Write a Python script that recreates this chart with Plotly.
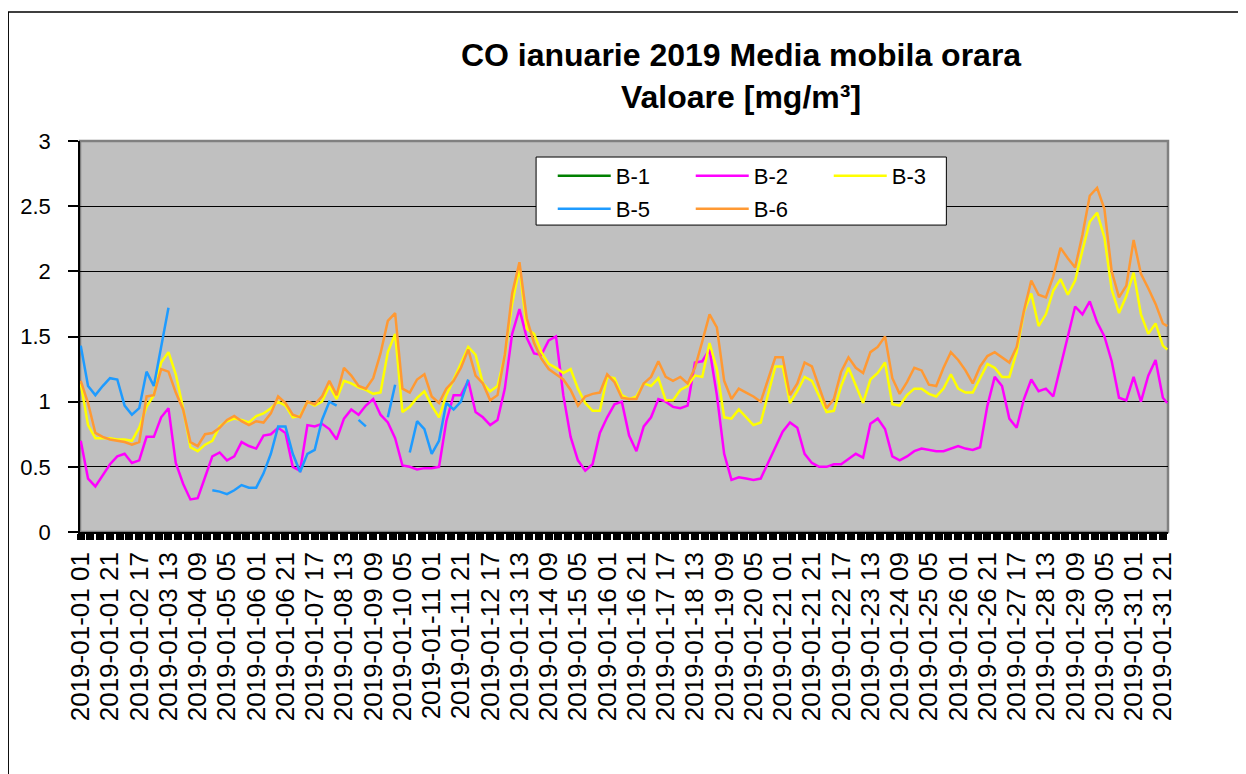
import pandas as pd
import plotly.graph_objects as go

# esantion la 5 ore, ora 1 = 2019-01-01 01
hours = list(range(1, 742, 5)) + [744]
times = pd.Timestamp("2019-01-01") + pd.to_timedelta(hours, unit="h")

# B-1 fara date
b1 = [None]

b2 = [0.70, 0.41, 0.35, 0.44, 0.52, 0.58, 0.60, 0.53, 0.55, 0.73, 0.73, 0.88, 0.95, 0.53, 0.37, 0.25, 0.26, 0.42, 0.58, 0.61, 0.55, 0.58, 0.69, 0.66, 0.64, 0.74,
      0.75, 0.80, 0.76, 0.50, 0.47, 0.82, 0.81, 0.83, 0.79, 0.71, 0.87, 0.94, 0.90, 0.97, 1.02, 0.90, 0.84, 0.72, 0.51, 0.50, 0.48, 0.49, 0.49, 0.50, 0.85, 1.05,
      1.05, 1.16, 0.92, 0.88, 0.82, 0.86, 1.10, 1.52, 1.71, 1.49, 1.37, 1.36, 1.47, 1.50, 1.05, 0.73, 0.55, 0.47, 0.52, 0.76, 0.88, 0.98, 1.00, 0.74, 0.62, 0.81,
      0.88, 1.02, 1.00, 0.96, 0.95, 0.97, 1.30, 1.31, 1.40, 1.05, 0.60, 0.40, 0.42, 0.41, 0.40, 0.41, 0.53, 0.65, 0.77, 0.84, 0.80, 0.60, 0.53, 0.50, 0.50, 0.52,
      0.52, 0.56, 0.60, 0.57, 0.83, 0.87, 0.79, 0.58, 0.55, 0.58, 0.62, 0.64, 0.63, 0.62, 0.62, 0.64, 0.66, 0.64, 0.63, 0.65, 0.97, 1.19, 1.12, 0.87, 0.80,
      1.02, 1.17, 1.08, 1.10, 1.04, 1.27, 1.48, 1.73, 1.67, 1.77, 1.61, 1.50, 1.31, 1.03, 1.01, 1.19, 1.00, 1.20, 1.32, 1.03, 0.99]

b3 = [1.14, 0.82, 0.72, 0.72, 0.72, 0.71, 0.71, 0.70, 0.80, 0.96, 1.05, 1.30, 1.38, 1.21, 0.95, 0.65, 0.62, 0.67, 0.70, 0.81, 0.85, 0.87, 0.86, 0.84, 0.89, 0.91,
      0.95, 1.00, 0.97, 0.88, 0.89, 1.00, 0.97, 1.00, 1.12, 1.02, 1.16, 1.14, 1.11, 1.09, 1.06, 1.07, 1.38, 1.52, 0.92, 0.96, 1.03, 1.08, 0.97, 0.88, 1.05, 1.17,
      1.30, 1.42, 1.36, 1.14, 1.08, 1.12, 1.35, 1.75, 2.03, 1.56, 1.52, 1.38, 1.29, 1.26, 1.22, 1.25, 1.10, 0.99, 0.93, 0.93, 1.19, 1.18, 1.05, 1.02, 1.04, 1.14,
      1.12, 1.18, 1.01, 1.01, 1.09, 1.12, 1.20, 1.19, 1.45, 1.25, 0.88, 0.87, 0.94, 0.88, 0.82, 0.84, 1.05, 1.27, 1.27, 0.99, 1.08, 1.19, 1.16, 1.04, 0.92, 0.93,
      1.12, 1.26, 1.13, 0.99, 1.17, 1.22, 1.30, 0.98, 0.97, 1.05, 1.10, 1.10, 1.06, 1.04, 1.10, 1.21, 1.10, 1.07, 1.07, 1.18, 1.29, 1.26, 1.19, 1.19, 1.38,
      1.69, 1.83, 1.58, 1.67, 1.85, 1.94, 1.82, 1.93, 2.16, 2.38, 2.45, 2.26, 1.86, 1.68, 1.81, 1.99, 1.67, 1.52, 1.60, 1.43, 1.40]

# B-5 are date doar pana la 01-12
b5 = [1.43, 1.12, 1.05, 1.12, 1.18, 1.17, 0.97, 0.90, 0.95, 1.23, 1.12, 1.41, 1.72, None, None, None, None, None, 0.32, 0.31, 0.29, 0.32, 0.36, 0.34, 0.34, 0.45,
      0.60, 0.81, 0.81, 0.60, 0.46, 0.60, 0.63, 0.86, 1.00, 0.97, None, None, 0.86, 0.81, None, None, 0.88, 1.13, None, 0.61, 0.85, 0.79, 0.60, 0.70, 0.99, 0.94,
      1.00, 1.17]

b6 = [1.16, 0.99, 0.76, 0.73, 0.71, 0.70, 0.69, 0.67, 0.69, 1.04, 1.05, 1.25, 1.23, 1.07, 0.94, 0.69, 0.66, 0.75, 0.76, 0.80, 0.86, 0.89, 0.85, 0.82, 0.85, 0.84,
      0.91, 1.04, 0.99, 0.90, 0.88, 1.00, 0.98, 1.04, 1.16, 1.05, 1.26, 1.20, 1.12, 1.10, 1.18, 1.37, 1.62, 1.68, 1.10, 1.07, 1.17, 1.21, 1.04, 0.99, 1.10, 1.16,
      1.26, 1.40, 1.20, 1.14, 1.01, 1.05, 1.36, 1.83, 2.07, 1.64, 1.45, 1.33, 1.25, 1.21, 1.17, 1.09, 0.97, 1.04, 1.06, 1.07, 1.21, 1.15, 1.03, 1.02, 1.02, 1.14,
      1.19, 1.31, 1.19, 1.16, 1.19, 1.14, 1.26, 1.46, 1.67, 1.57, 1.16, 1.02, 1.10, 1.07, 1.04, 1.00, 1.17, 1.34, 1.34, 1.05, 1.14, 1.30, 1.27, 1.11, 0.95, 1.02,
      1.23, 1.34, 1.26, 1.22, 1.38, 1.42, 1.50, 1.18, 1.06, 1.15, 1.26, 1.24, 1.13, 1.12, 1.26, 1.38, 1.32, 1.24, 1.14, 1.27, 1.35, 1.38, 1.34, 1.30, 1.42,
      1.70, 1.93, 1.82, 1.80, 1.96, 2.18, 2.10, 2.03, 2.28, 2.58, 2.64, 2.48, 2.00, 1.80, 1.89, 2.24, 1.98, 1.87, 1.75, 1.60, 1.58]

FONT = "Liberation Sans, Arial, sans-serif"

fig = go.Figure()
fig.add_trace(go.Scatter(x=times[:len(b1)], y=b1, name="B-1", mode="lines",
                         line=dict(color="#008000", width=2.5), legend="legend"))
fig.add_trace(go.Scatter(x=times, y=b2, name="B-2", mode="lines",
                         line=dict(color="#FF00FF", width=2.5), legend="legend"))
fig.add_trace(go.Scatter(x=times, y=b3, name="B-3", mode="lines",
                         line=dict(color="#FFFF00", width=2.5), legend="legend"))
fig.add_trace(go.Scatter(x=times[:len(b5)], y=b5, name="B-5", mode="lines",
                         line=dict(color="#1E9BFF", width=2.5), legend="legend2"))
fig.add_trace(go.Scatter(x=times, y=b6, name="B-6", mode="lines",
                         line=dict(color="#FF9933", width=2.5), legend="legend2"))

leg = dict(orientation="h", xanchor="left", yanchor="middle", x=0.4345,
           bgcolor="rgba(0,0,0,0)", borderwidth=0, itemwidth=53,
           entrywidth=70, entrywidthmode="pixels",
           font=dict(family=FONT, size=22, color="black"))

# pagina are 8px margine in jurul graficului, de aici marginile ajustate
fig.update_layout(
    width=1246, height=774,
    margin=dict(l=65, r=86, t=133, b=250),
    paper_bgcolor="white",
    plot_bgcolor="#C0C0C0",
    title=dict(text="<b>CO ianuarie 2019 Media mobila orara<br>Valoare [mg/m³]</b>",
               x=0.5883, xref="container", xanchor="center",
               y=0.925, yref="container", yanchor="middle",
               font=dict(family=FONT, size=32, color="black")),
    legend=dict(leg, y=0.9105),
    legend2=dict(leg, y=0.826),
    xaxis=dict(
        type="date",
        range=["2019-01-01 00:30", "2019-02-01 00:30"],
        tick0="2019-01-01 01:00", dtick=20 * 3600 * 1000,
        tickformat="%Y-%m-%d %H", tickangle=-90,
        ticks="outside", ticklen=6, tickwidth=8, tickcolor="black",
        minor=dict(ticks="outside", ticklen=6, tickwidth=8, tickcolor="black",
                   tick0="2019-01-01 01:00", dtick=20 * 3600 * 1000 / 3),
        ticklabelstandoff=2,
        showgrid=False, showline=True, linecolor="black", linewidth=1.5,
        tickfont=dict(family=FONT, size=26, color="black"),
    ),
    yaxis=dict(
        range=[0, 3], dtick=0.5,
        ticks="outside", ticklen=10, tickwidth=1.5, tickcolor="black",
        ticklabelstandoff=13,
        showgrid=True, gridcolor="black", gridwidth=1,
        zeroline=False,
        showline=True, linecolor="black", linewidth=1.5,
        tickfont=dict(family=FONT, size=22, color="black"),
    ),
    shapes=[
        # chenar zona grafic
        dict(type="rect", xref="paper", yref="paper", x0=0, x1=1, y0=0, y1=1,
             line=dict(color="#808080", width=2.5), layer="below"),
        # chenar legenda
        dict(type="rect", xref="paper", yref="paper", x0=0.4192, x1=0.7963, y0=0.785, y1=0.959,
             line=dict(color="black", width=1), fillcolor="white", layer="above"),
        # chenar exterior (taiat in dreapta si jos)
        dict(type="rect", xref="paper", yref="paper", x0=-0.0660, x1=1.25, y0=-0.70, y1=1.33,
             line=dict(color="black", width=1.5), layer="above"),
    ],
    showlegend=True,
)

fig.write_html("out.html")
